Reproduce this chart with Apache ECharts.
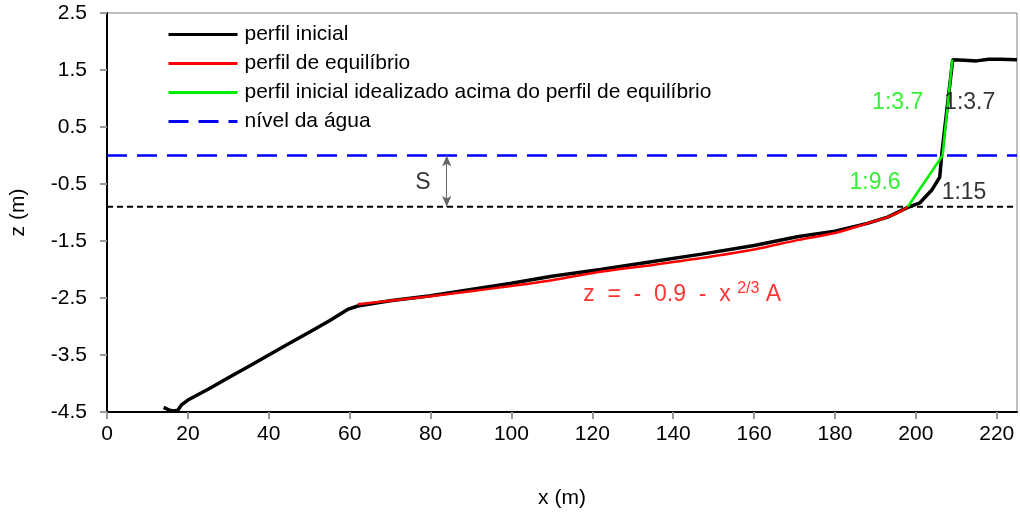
<!DOCTYPE html>
<html><head><meta charset="utf-8">
<script src="https://cdn.jsdelivr.net/npm/echarts@6/dist/echarts.min.js"></script>
<style>html,body{margin:0;padding:0;background:#fff}#c{width:1020px;height:519px}</style>
</head><body><div id="c"></div>
<script>
// perfil inicial (black)
const xInicial = [14, 15.5, 16.5, 17.5, 18.5, 20, 25, 30, 35, 40, 45, 50, 55, 59.5, 62, 70, 80, 90, 100, 110, 122, 135, 147, 160, 171, 180, 188, 193, 196, 198, 201, 204, 205.9, 206.4, 209.1, 212, 215, 218, 221, 225];
const zInicial = [-4.42, -4.47, -4.48, -4.47, -4.37, -4.29, -4.1, -3.9, -3.7, -3.5, -3.3, -3.1, -2.9, -2.7, -2.64, -2.55, -2.46, -2.35, -2.24, -2.12, -2.0, -1.86, -1.73, -1.58, -1.42, -1.33, -1.19, -1.08, -0.98, -0.91, -0.83, -0.6, -0.38, 0.03, 1.68, 1.67, 1.66, 1.69, 1.69, 1.68];
// perfil de equilíbrio (red)
const xEquil = [62, 70, 80, 90, 100, 110, 122, 135, 147, 160, 171, 180, 188, 193, 196, 198];
const zEquil = [-2.61, -2.55, -2.47, -2.38, -2.29, -2.19, -2.04, -1.92, -1.80, -1.65, -1.48, -1.36, -1.19, -1.08, -0.99, -0.9];
// perfil inicial idealizado (green)
const xIdeal = [198, 206.6, 209];
const zIdeal = [-0.9, 0.0, 1.68];
// water level and closure depth
const nivelAgua = 0;
const nivelS = -0.9;
const xRange = [0, 225];
const seriesNames = ['perfil inicial', 'perfil de equilíbrio', 'perfil inicial idealizado acima do perfil de equilíbrio', 'nível da água'];
const yTickLabels = ['-4.5', '-3.5', '-2.5', '-1.5', '-0.5', '0.5', '1.5', '2.5'];

const zip = (xs, ys) => xs.map((x, i) => [x, ys[i]]);
const FONT = 'Liberation Sans, Arial, sans-serif';

const chart = echarts.init(document.getElementById('c'));
chart.setOption({
  animation: false,
  textStyle: { fontFamily: FONT },
  grid: { left: 107, top: 13, right: 3, bottom: 107, show: true, borderColor: '#808080', borderWidth: 1 },
  legend: {
    data: seriesNames, orient: 'vertical', left: 167, top: 24, padding: 0,
    itemWidth: 69, itemHeight: 14, itemGap: 8.0,
    itemStyle: { opacity: 0 },
    lineStyle: { width: 3 },
    textStyle: { fontSize: 21, color: '#000', fontFamily: FONT, lineHeight: 21, padding: [0, 0, 0, 2] }
  },
  xAxis: {
    type: 'value', min: xRange[0], max: xRange[1], interval: 20,
    name: 'x (m)', nameLocation: 'middle', nameGap: 76,
    nameTextStyle: { fontSize: 21, color: '#000', fontFamily: FONT },
    axisLine: { onZero: false, lineStyle: { color: '#000', width: 2 } },
    axisTick: { show: true, inside: false, length: 7, lineStyle: { color: '#999', width: 2 } },
    axisLabel: { fontSize: 21, color: '#000', margin: 12, showMaxLabel: false, fontFamily: FONT },
    splitLine: { show: false }
  },
  yAxis: {
    type: 'value', min: -4.5, max: 2.5, interval: 1,
    name: 'z (m)', nameLocation: 'middle', nameGap: 78, nameRotate: 90,
    nameTextStyle: { fontSize: 21, color: '#000', fontFamily: FONT },
    axisLine: { show: true, onZero: false, lineStyle: { color: '#000', width: 2 } },
    axisTick: { show: true, inside: false, length: 7, lineStyle: { color: '#999', width: 2 } },
    axisLabel: { fontSize: 21, color: '#000', margin: 20, fontFamily: FONT,
      formatter: v => { const s = v.toFixed(1); return yTickLabels.includes(s) ? s : ''; } },
    splitLine: { show: false }
  },
  series: [
    { name: 'cota S', type: 'line', data: zip(xRange, [nivelS, nivelS]), symbol: 'none', silent: true,
      lineStyle: { color: '#000', width: 2, type: [6, 4] }, z: 1,
      markLine: {
        silent: true, symbol: ['arrow', 'arrow'], symbolSize: [7, 11],
        label: { show: false },
        lineStyle: { color: '#666', width: 1, type: 'solid' },
        data: [[{ coord: [84, nivelAgua] }, { coord: [84, nivelS] }]]
      } },
    { name: seriesNames[3], type: 'line', data: zip(xRange, [nivelAgua, nivelAgua]), symbol: 'none',
      lineStyle: { color: '#0000ff', width: 2.5, type: [20, 10] }, itemStyle: { color: '#0000ff' }, z: 2 },
    { name: seriesNames[0], type: 'line', data: zip(xInicial, zInicial), symbol: 'none',
      lineStyle: { color: '#000', width: 3.5 }, itemStyle: { color: '#000' }, z: 3 },
    { name: seriesNames[1], type: 'line', data: zip(xEquil, zEquil), symbol: 'none', smooth: 0.3,
      lineStyle: { color: '#ff0000', width: 2.5 }, itemStyle: { color: '#ff0000' }, z: 4 },
    { name: seriesNames[2], type: 'line', data: zip(xIdeal, zIdeal), symbol: 'none',
      lineStyle: { color: '#00ee00', width: 2.5 }, itemStyle: { color: '#00ee00' }, z: 5 },
    { name: 'rótulos', type: 'scatter', symbolSize: 0, silent: true, z: 6,
      label: { show: true, position: [0, 0], align: 'center', verticalAlign: 'middle', fontSize: 23, fontFamily: FONT },
      data: [
        { value: [195.5, 0.92], label: { formatter: '1:3.7', color: '#00ee00' } },
        { value: [213.3, 0.92], label: { formatter: '1:3.7', color: '#000' } },
        { value: [189.9, -0.48], label: { formatter: '1:9.6', color: '#00ee00' } },
        { value: [211.9, -0.66], label: { formatter: '1:15', color: '#000' } },
        { value: [78.1, -0.48], label: { formatter: 'S', color: '#000' } },
        { value: [142.2, -2.44], label: {
          formatter: '{a|z  =  -  0.9  -  x }{b|2/3}{a| A}',
          rich: { a: { fontSize: 23, color: '#ff0000', fontFamily: FONT },
                  b: { fontSize: 16, color: '#ff0000', fontFamily: FONT, padding: [0, 0, 12, 0] } } } }
      ] }
  ]
});
</script></body></html>
